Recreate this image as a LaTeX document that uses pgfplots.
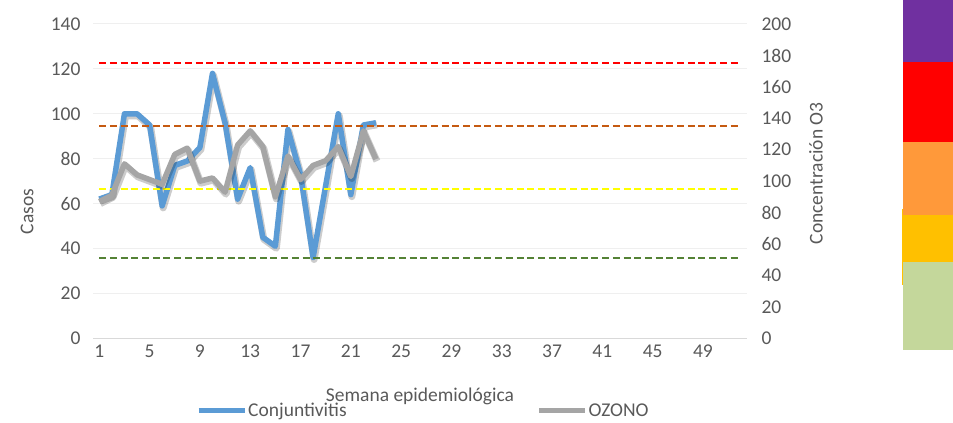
\documentclass[border=0pt]{standalone}
\usepackage{fontspec}
\setmainfont{Carlito}
\usepackage{pgfplots}
\pgfplotsset{compat=1.18}
\definecolor{txt}{HTML}{595959}
\definecolor{gridc}{HTML}{EFEFEF}
\definecolor{axc}{HTML}{D9D9D9}
\definecolor{blue1}{HTML}{5B9BD5}
\definecolor{gray1}{HTML}{A5A5A5}
\definecolor{lred}{HTML}{FF0000}
\definecolor{lbrown}{HTML}{C55A11}
\definecolor{lyel}{HTML}{FFFF00}
\definecolor{lgreen}{HTML}{548235}
\definecolor{bpurp}{HTML}{7030A0}
\definecolor{bred}{HTML}{FF0000}
\definecolor{borange}{HTML}{FF993A}
\definecolor{byel}{HTML}{FFC000}
\definecolor{bgreen}{HTML}{C4D79B}
\begin{document}
\begin{tikzpicture}
\path[use as bounding box] (0bp,0bp) rectangle (953bp,423bp);
% colour scale at right
\fill[bpurp] (903bp,423bp) rectangle (953bp,361bp);
\fill[bred] (903bp,361bp) rectangle (953bp,281bp);
\fill[borange] (903bp,281bp) rectangle (953bp,208bp);
\fill[byel] (903bp,208bp) rectangle (953bp,161bp);
\fill[bgreen] (903bp,161bp) rectangle (953bp,73bp);
\draw[byel, line width=1bp] (902.5bp,214bp) -- (902.5bp,138bp);
\pgfplotsset{
  common/.style={
    at={(93bp,84.7bp)}, anchor=south west,
    scale only axis, width=654bp, height=314.3bp,
    xmin=0.5, xmax=52.5,
    axis line style={draw=none}, tick style={draw=none},
    font=\fontsize{19.5bp}{23bp}\selectfont,
    every tick label/.append style={text=txt},
    label style={text=txt},
    /pgf/number format/assume math mode=true,
  }
}
\begin{axis}[common,
  ymin=0, ymax=140, ytick={0,20,...,140},
  xtick={1,5,...,49},
  ymajorgrids, grid style={gridc, line width=1bp},
  yticklabel style={anchor=east, xshift=-9bp},
  xticklabel style={anchor=north, yshift=-3bp},
  xlabel={Semana epidemiológica},
  xlabel style={at={(axis description cs:0.5,-0.1836)}, anchor=center},
  ylabel={Casos},
  ylabel style={at={(axis description cs:-0.1009,0.4030)}, anchor=center, rotate=0},
  legend columns=2,
  legend style={draw=none, fill=none, inner sep=0pt,
    at={(axis description cs:0.1575,-0.2313)}, anchor=west,
    nodes={inner sep=1bp, text=txt},
    /tikz/every even column/.append style={column sep=189bp}},
  legend image code/.code={\draw[#1, line width=5bp] (0bp,0bp) -- (46bp,0bp);},
]
\draw[axc, line width=1.5bp] (axis cs:0.5,0) -- (axis cs:52.5,0);
\addlegendimage{blue1}
\addlegendentry{Conjuntivitis}
\addlegendimage{gray1}
\addlegendentry{OZONO}
\addplot[black, opacity=0.2, line width=7bp, line join=round, forget plot,
  transform canvas={xshift=1bp, yshift=-2bp}] coordinates {
(1,62) (2,64) (3,100) (4,100) (5,95) (6,59) (7,77) (8,79) (9,85) (10,118)
(11,96) (12,62) (13,76) (14,45) (15,41) (16,93) (17,73) (18,36) (19,68) (20,100)
(21,64) (22,95) (23,96)};
\addplot[blue1, line width=5.5bp, line join=round, forget plot] coordinates {
(1,62) (2,64) (3,100) (4,100) (5,95) (6,59) (7,77) (8,79) (9,85) (10,118)
(11,96) (12,62) (13,76) (14,45) (15,41) (16,93) (17,73) (18,36) (19,68) (20,100)
(21,64) (22,95) (23,96)};
\end{axis}
\begin{axis}[common,
  ymin=0, ymax=200, ytick={0,20,...,200},
  xtick=\empty,
  yticklabel pos=right,
  yticklabel style={anchor=west, xshift=11bp},
  ylabel={Concentración O3},
  ylabel style={at={(axis description cs:1.1055,0.5248)}, anchor=center, rotate=0, text=txt},
]
\addplot[lred, line width=2.2bp, dash pattern=on 7bp off 3.7bp] coordinates {(1,175) (52,175)};
\addplot[lbrown, line width=2.2bp, dash pattern=on 7bp off 3.7bp] coordinates {(1,135) (52,135)};
\addplot[lyel, line width=2.2bp, dash pattern=on 7bp off 3.7bp] coordinates {(1,95) (52,95)};
\addplot[lgreen, line width=2.2bp, dash pattern=on 7bp off 3.7bp] coordinates {(1,51) (52,51)};
\addplot[black, opacity=0.2, line width=7bp, line join=round,
  transform canvas={xshift=1bp, yshift=-2bp}] coordinates {
(1,87) (2,91) (3,111) (4,104) (5,101) (6,98) (7,117) (8,121) (9,100) (10,102)
(11,93) (12,123) (13,132) (14,122) (15,90) (16,116) (17,101) (18,110) (19,113) (20,122)
(21,103) (22,132) (23,114)};
\addplot[gray1, line width=5.5bp, line join=round] coordinates {
(1,87) (2,91) (3,111) (4,104) (5,101) (6,98) (7,117) (8,121) (9,100) (10,102)
(11,93) (12,123) (13,132) (14,122) (15,90) (16,116) (17,101) (18,110) (19,113) (20,122)
(21,103) (22,132) (23,114)};
\end{axis}
\end{tikzpicture}
\end{document}
